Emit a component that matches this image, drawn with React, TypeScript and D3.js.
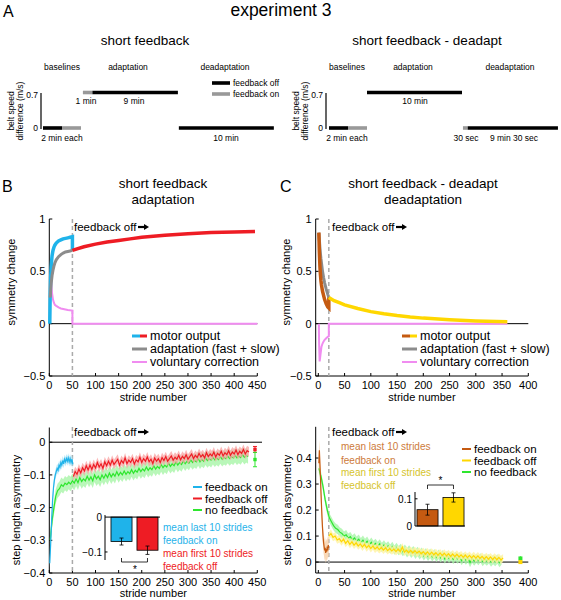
import React from "react";
import * as d3 from "d3";

const FONT = "Liberation Sans, Arial, Helvetica, sans-serif";

// ---------- Panel A: protocol schematics (minutes, belt speed difference) ----------
const aLeftStart = [0, 2, 4.2, 5.2, 14.3];
const aLeftEnd = [2, 4, 5.2, 14.2, 24.3];
const aLeftLevel = [0, 0, 0.7, 0.7, 0];
const aLeftFeedback = ["off", "on", "on", "off", "off"];
const aRightStart = [0, 2, 4, 14.1, 14.6];
const aRightEnd = [2, 4, 14, 14.6, 24.1];
const aRightLevel = [0, 0, 0.7, 0, 0];
const aRightFeedback = ["off", "on", "off", "on", "off"];

// ---------- Panel B top: model (symmetry change) ----------
const bBlueStride = [1, 1.5, 2, 3, 4, 5, 6, 8, 10, 12, 15, 20, 25, 30, 35, 40, 45, 50, 50];
const bBlueVal = [0, 0.15, 0.3, 0.45, 0.54, 0.6, 0.65, 0.7, 0.73, 0.75, 0.77, 0.79, 0.8, 0.81, 0.815, 0.82, 0.825, 0.83, 0.7];
const bGrayStride = [2, 3, 4, 5, 6, 8, 10, 12, 15, 20, 25, 30, 35, 40, 45, 50];
const bGrayVal = [0.25, 0.33, 0.38, 0.42, 0.46, 0.51, 0.55, 0.58, 0.61, 0.64, 0.66, 0.675, 0.685, 0.69, 0.695, 0.7];
const bPinkStride = [3.5, 4, 5, 6, 8, 10, 12, 15, 20, 25, 30, 40, 50, 50, 450];
const bPinkVal = [0.5, 0.42, 0.34, 0.29, 0.23, 0.2, 0.18, 0.17, 0.155, 0.145, 0.14, 0.13, 0.125, 0, 0];
const bRedStride = [50, 60, 75, 100, 125, 150, 175, 200, 250, 300, 350, 400, 445];
const bRedVal = [0.7, 0.715, 0.735, 0.76, 0.78, 0.795, 0.81, 0.825, 0.845, 0.86, 0.87, 0.875, 0.88];

// ---------- Panel C top: model ----------
const cOrangeStride = [1, 2, 3, 4, 5, 6, 8, 10, 12, 15, 18, 20, 20];
const cOrangeVal = [0.87, 0.68, 0.55, 0.47, 0.41, 0.37, 0.31, 0.27, 0.23, 0.19, 0.16, 0.15, 0.25];
const cGrayStride = [1, 2, 3, 4, 5, 6, 8, 10, 12, 15, 18, 20];
const cGrayVal = [0.87, 0.8, 0.73, 0.67, 0.62, 0.58, 0.5, 0.44, 0.39, 0.33, 0.28, 0.25];
const cPinkStride = [1, 1.5, 2.5, 3, 4, 5, 6, 8, 10, 12, 15, 18, 20, 20, 360];
const cPinkVal = [0, -0.2, -0.36, -0.34, -0.3, -0.26, -0.22, -0.19, -0.17, -0.155, -0.14, -0.125, -0.12, 0, 0];
const cYellowStride = [20, 30, 40, 50, 75, 100, 125, 150, 175, 200, 250, 300, 360];
const cYellowVal = [0.25, 0.22, 0.2, 0.18, 0.145, 0.115, 0.095, 0.078, 0.064, 0.053, 0.037, 0.026, 0.018];

// ---------- Panel B bottom: step length asymmetry ----------
const bBlueDataStart = 1, bBlueDataStep = 2;
const bBlueData = [-0.37, -0.31, -0.24, -0.18, -0.14, -0.115, -0.1, -0.09, -0.08, -0.086, -0.07, -0.077, -0.062, -0.07, -0.056, -0.066, -0.052, -0.06, -0.05, -0.058, -0.048, -0.06, -0.05, -0.062, -0.052, -0.068];
const bBlueSE = 0.014;
const bRedDataStart = 52, bRedDataStep = 4;
const bRedData = [-0.105, -0.09, -0.098, -0.082, -0.094, -0.078, -0.088, -0.072, -0.085, -0.07, -0.083, -0.068, -0.079, -0.062, -0.076, -0.066, -0.08, -0.06, -0.072, -0.058, -0.07, -0.055, -0.068, -0.06, -0.052, -0.07, -0.056, -0.064, -0.048, -0.066, -0.055, -0.062, -0.05, -0.067, -0.054, -0.06, -0.046, -0.062, -0.05, -0.058, -0.045, -0.06, -0.052, -0.065, -0.048, -0.058, -0.05, -0.062, -0.047, -0.056, -0.044, -0.058, -0.05, -0.042, -0.055, -0.046, -0.052, -0.04, -0.054, -0.043, -0.05, -0.038, -0.052, -0.044, -0.036, -0.05, -0.04, -0.047, -0.034, -0.045, -0.038, -0.048, -0.032, -0.044, -0.036, -0.042, -0.03, -0.045, -0.034, -0.04, -0.028, -0.042, -0.032, -0.038, -0.026, -0.04, -0.03, -0.036, -0.024, -0.038, -0.028, -0.034, -0.022, -0.036, -0.026, -0.03];
const bRedSE = 0.015;
const bGreenDataStart = 2, bGreenDataStep = 4;
const bGreenData = [-0.3, -0.24, -0.2, -0.165, -0.148, -0.142, -0.13, -0.135, -0.125, -0.13, -0.122, -0.128, -0.118, -0.125, -0.112, -0.124, -0.108, -0.12, -0.112, -0.118, -0.104, -0.116, -0.106, -0.118, -0.1, -0.112, -0.104, -0.115, -0.1, -0.11, -0.098, -0.108, -0.094, -0.106, -0.096, -0.104, -0.09, -0.102, -0.092, -0.1, -0.088, -0.098, -0.09, -0.096, -0.084, -0.095, -0.086, -0.092, -0.08, -0.09, -0.082, -0.088, -0.076, -0.086, -0.078, -0.084, -0.072, -0.082, -0.074, -0.08, -0.068, -0.078, -0.07, -0.076, -0.064, -0.074, -0.066, -0.072, -0.06, -0.07, -0.062, -0.068, -0.057, -0.066, -0.058, -0.064, -0.054, -0.062, -0.055, -0.06, -0.05, -0.06, -0.052, -0.058, -0.048, -0.056, -0.05, -0.055, -0.046, -0.054, -0.048, -0.053, -0.044, -0.052, -0.046, -0.05, -0.042, -0.05, -0.044, -0.048, -0.04, -0.048, -0.042, -0.047, -0.038, -0.046, -0.04, -0.044];
const bGreenSE = 0.022;
const bEndStride = 445;
const bEndMean = [-0.022, -0.053];
const bEndErr = [0.009, 0.022];
const bInsetCats = ["feedback on", "feedback off"];
const bInsetMean = [-0.07, -0.095];
const bInsetErr = [0.01, 0.012];

// ---------- Panel C bottom ----------
const cOrangeDataStart = 1, cOrangeDataStep = 1;
const cOrangeData = [0.38, 0.43, 0.38, 0.33, 0.27, 0.22, 0.17, 0.13, 0.1, 0.075, 0.06, 0.045, 0.055, 0.035, 0.05, 0.04, 0.06, 0.045, 0.065, 0.055];
const cOrangeSE = 0.04;
const cGreenDataStart = 1, cGreenDataStep = 4;
const cGreenData = [0.36, 0.33, 0.29, 0.24, 0.2, 0.17, 0.155, 0.14, 0.13, 0.125, 0.115, 0.11, 0.1, 0.105, 0.092, 0.098, 0.085, 0.093, 0.08, 0.088, 0.075, 0.084, 0.072, 0.08, 0.066, 0.076, 0.064, 0.072, 0.06, 0.07, 0.056, 0.066, 0.054, 0.062, 0.05, 0.06, 0.046, 0.056, 0.044, 0.052, 0.04, 0.05, 0.036, 0.047, 0.034, 0.044, 0.03, 0.041, 0.028, 0.038, 0.024, 0.036, 0.022, 0.034, 0.02, 0.032, 0.018, 0.03, 0.016, 0.028, 0.012, 0.026, 0.014, 0.024, 0.01, 0.022, 0.012, 0.02, 0.006, 0.018, 0.008, 0.016, -0.002, 0.014, 0.004, 0.014, 0.006, 0.016, 0.002, 0.012, 0.004, 0.013, 0.0, 0.01, 0.002, 0.012, -0.002, 0.008];
const cGreenSE = 0.018;
const cYellowDataStart = 20, cYellowDataStep = 4;
const cYellowData = [0.1, 0.11, 0.095, 0.1, 0.085, 0.09, 0.078, 0.088, 0.072, 0.082, 0.068, 0.078, 0.065, 0.074, 0.062, 0.07, 0.058, 0.068, 0.055, 0.064, 0.052, 0.062, 0.05, 0.058, 0.048, 0.056, 0.046, 0.055, 0.044, 0.052, 0.043, 0.05, 0.04, 0.05, 0.04, 0.058, 0.038, 0.046, 0.036, 0.045, 0.035, 0.044, 0.034, 0.042, 0.032, 0.04, 0.03, 0.039, 0.029, 0.038, 0.028, 0.036, 0.026, 0.035, 0.025, 0.034, 0.024, 0.032, 0.022, 0.031, 0.021, 0.03, 0.02, 0.028, 0.018, 0.027, 0.017, 0.026, 0.016, 0.025, 0.015, 0.024, 0.014, 0.022, 0.012, 0.021, 0.011, 0.02, 0.01, 0.019, 0.009, 0.018, 0.008, 0.016];
const cYellowSE = 0.015;
const cEndStride = 385;
const cEndMean = [0.014, 0.0];
const cEndErr = [0.008, 0.007];
const cInsetCats = ["feedback on", "feedback off"];
const cInsetMean = [0.06, 0.105];
const cInsetErr = [0.02, 0.017];

// ---------- Tick labels ----------
const bTopXTicks = [0, 50, 100, 150, 200, 250, 300, 350, 400, 450];
const cTopXTicks = [0, 50, 100, 150, 200, 250, 300, 350, 400];
const topYTicks = [-0.5, 0, 0.5, 1];
const bBotYTicks = [-0.4, -0.3, -0.2, -0.1, 0];
const cBotYTicks = [0, 0.1, 0.2, 0.3, 0.4];

const BLUE = "#1fb3ea";
const RED = "#ee1c24";
const GREEN = "#2ee62e";
const GRAY = "#8c8c8c";
const PINK = "#f08cf0";
const ORANGE = "#c55a11";
const YELLOW = "#ffd700";

type Pt = [number, number];
const zip = (xs: number[], ys: number[]): Pt[] => xs.map((x, i) => [x, ys[i]]);
const seq = (start: number, step: number, vals: number[]): Pt[] => vals.map((v, i) => [start + i * step, v]);
const fmt = (v: number) => (v < 0 ? "\u2212" + String(-v) : String(v));

function Axes({ x, y, xTicks, yTicks, xLabel, xLabelY }: any) {
  const [x0, x1] = x.range();
  const [y0, y1] = y.range();
  return (
    <g fontFamily={FONT} fontSize={11}>
      <line x1={x0} x2={x1} y1={y0} y2={y0} stroke="#000" strokeWidth={1} />
      <line x1={x0} x2={x0} y1={y0} y2={y1} stroke="#000" strokeWidth={1} />
      {xTicks.map((t: number) => (
        <g key={"x" + t}>
          <line x1={x(t)} x2={x(t)} y1={y0} y2={y0 - 3} stroke="#000" />
          <text x={x(t)} y={y0 + 12.5} textAnchor="middle">{fmt(t)}</text>
        </g>
      ))}
      {yTicks.map((t: number) => (
        <g key={"y" + t}>
          <line x1={x0} x2={x0 + 3} y1={y(t)} y2={y(t)} stroke="#000" />
          <text x={x0 - 4} y={y(t) + 4} textAnchor="end">{fmt(t)}</text>
        </g>
      ))}
      {xLabel ? <text x={(x0 + x1) / 2} y={xLabelY} textAnchor="middle">{xLabel}</text> : null}
    </g>
  );
}

function FeedbackOff({ x, y }: { x: number; y: number }) {
  const ax = x + 64;
  return (
    <g>
      <text x={x} y={y} fontFamily={FONT} fontSize={11.5}>feedback off</text>
      <line x1={ax} x2={ax + 7} y1={y - 4} y2={y - 4} stroke="#000" strokeWidth={2.2} />
      <path d={`M${ax + 6},${y - 7} L${ax + 11},${y - 4} L${ax + 6},${y - 1} Z`} fill="#000" />
    </g>
  );
}

function Timeline({ x0, starts, ends, levels, fb }: any) {
  const tx = d3.scaleLinear().domain([0, 10]).range([x0, x0 + 95]);
  const ty = d3.scaleLinear().domain([0, 0.7]).range([128, 92.5]);
  return (
    <g>
      {starts.map((s: number, i: number) => (
        <line key={i} x1={tx(s)} x2={tx(ends[i])} y1={ty(levels[i])} y2={ty(levels[i])}
          stroke={fb[i] === "on" ? "#999" : "#000"} strokeWidth={3.6} />
      ))}
    </g>
  );
}

function Bars({ xs, ys, cats, means, errs, colors }: any) {
  const bw = xs.bandwidth();
  return (
    <g>
      {cats.map((c: string, i: number) => {
        const cxm = xs(c) + bw / 2;
        const top = Math.min(ys(0), ys(means[i]));
        const h = Math.abs(ys(means[i]) - ys(0));
        const lo = ys(means[i] - errs[i]);
        const hi = ys(means[i] + errs[i]);
        return (
          <g key={c}>
            <rect x={xs(c)} y={top} width={bw} height={h} fill={colors[i]} stroke="#000" strokeWidth={0.8} />
            <line x1={cxm} x2={cxm} y1={lo} y2={hi} stroke="#000" strokeWidth={0.8} />
            <line x1={cxm - 2} x2={cxm + 2} y1={lo} y2={lo} stroke="#000" strokeWidth={0.8} />
            <line x1={cxm - 2} x2={cxm + 2} y1={hi} y2={hi} stroke="#000" strokeWidth={0.8} />
          </g>
        );
      })}
    </g>
  );
}

export default function App() {
  const bx = d3.scaleLinear().domain([0, 450]).range([49.3, 257.3]);
  const cx = d3.scaleLinear().domain([-5, 400]).range([315.7, 528.3]);
  const byT = d3.scaleLinear().domain([-0.5, 1]).range([376, 219]);
  const cyT = d3.scaleLinear().domain([-0.5, 1]).range([376, 219]);
  const byB = d3.scaleLinear().domain([-0.4, 0.045]).range([573, 427.5]);
  const cyB = d3.scaleLinear().domain([-0.042, 0.52]).range([573, 426.8]);

  const lineB = (ys: any) => d3.line<Pt>().x((d) => bx(d[0])).y((d) => ys(d[1]));
  const lineC = (ys: any) => d3.line<Pt>().x((d) => cx(d[0])).y((d) => ys(d[1]));
  const areaF = (xs: any, ys: any, se: number) =>
    d3.area<Pt>().x((d) => xs(d[0])).y0((d) => ys(d[1] - se)).y1((d) => ys(d[1] + se));

  const ltB = lineB(byT);
  const ltC = lineC(cyT);
  const lbB = lineB(byB);
  const lbC = lineC(cyB);

  const bBlue = seq(bBlueDataStart, bBlueDataStep, bBlueData);
  const bRed = seq(bRedDataStart, bRedDataStep, bRedData);
  const bGreen = seq(bGreenDataStart, bGreenDataStep, bGreenData);
  const cOr = seq(cOrangeDataStart, cOrangeDataStep, cOrangeData);
  const cGr = seq(cGreenDataStart, cGreenDataStep, cGreenData);
  const cYe = seq(cYellowDataStart, cYellowDataStep, cYellowData);

  // insets
  const bInX = d3.scaleBand().domain(bInsetCats).range([108, 161]).paddingInner(0.19).paddingOuter(0.115);
  const bInY = d3.scaleLinear().domain([-0.123, 0.006]).range([560, 515]);
  const cInX = d3.scaleBand().domain(cInsetCats).range([414, 467]).paddingInner(0.19).paddingOuter(0.115);
  const cInY = d3.scaleLinear().domain([0, 0.125]).range([526, 492]);
  const bMid = (c: string) => (bInX(c) as number) + bInX.bandwidth() / 2;
  const cMid = (c: string) => (cInX(c) as number) + cInX.bandwidth() / 2;

  const T = (p: any) => <text fontFamily={FONT} {...p} />;

  return (
    <svg width={561} height={600} style={{ position: "absolute", left: 0, top: 0, background: "#fff" }}>
      <rect width={561} height={600} fill="#fff" />
      {/* ================= Panel A ================= */}
      <T x={3} y={17} fontSize={16}>A</T>
      <T x={281} y={16} fontSize={17.5} textAnchor="middle">experiment 3</T>
      <T x={145} y={45} fontSize={13.5} textAnchor="middle">short feedback</T>
      <T x={427} y={45} fontSize={13.5} textAnchor="middle">short feedback - deadapt</T>
      {[
        [62, "baselines"], [128, "adaptation"], [225, "deadaptation"],
        [347, "baselines"], [413, "adaptation"], [510, "deadaptation"],
      ].map(([x, s]: any, i) => (
        <T key={i} x={x} y={70} fontSize={8.5} textAnchor="middle">{s}</T>
      ))}
      {[41, 326].map((ax, i) => (
        <g key={i}>
          <line x1={ax} x2={ax} y1={93} y2={129} stroke="#000" strokeWidth={1.2} />
          <T x={ax - 3} y={98} fontSize={8.5} textAnchor="end">0.7</T>
          <T x={ax - 3} y={131} fontSize={8.5} textAnchor="end">0</T>
          <g transform={`translate(${ax - 27},111) rotate(-90)`}>
            <T x={0} y={0} fontSize={8.5} textAnchor="middle">belt speed</T>
            <T x={0} y={9} fontSize={8.5} textAnchor="middle">difference (m/s)</T>
          </g>
        </g>
      ))}
      <Timeline x0={43} starts={aLeftStart} ends={aLeftEnd} levels={aLeftLevel} fb={aLeftFeedback} />
      <Timeline x0={329} starts={aRightStart} ends={aRightEnd} levels={aRightLevel} fb={aRightFeedback} />
      <T x={86} y={104} fontSize={8.5} textAnchor="middle">1 min</T>
      <T x={134} y={104} fontSize={8.5} textAnchor="middle">9 min</T>
      <T x={62} y={141} fontSize={8.5} textAnchor="middle">2 min each</T>
      <T x={226} y={141} fontSize={8.5} textAnchor="middle">10 min</T>
      <T x={415} y={104} fontSize={8.5} textAnchor="middle">10 min</T>
      <T x={347} y={141} fontSize={8.5} textAnchor="middle">2 min each</T>
      <T x={466} y={141} fontSize={8.5} textAnchor="middle">30 sec</T>
      <T x={514} y={141} fontSize={8.5} textAnchor="middle">9 min 30 sec</T>
      <line x1={212} x2={230} y1={83} y2={83} stroke="#000" strokeWidth={3.6} />
      <line x1={212} x2={230} y1={94} y2={94} stroke="#999" strokeWidth={3.6} />
      <T x={233} y={86} fontSize={8.5}>feedback off</T>
      <T x={233} y={97} fontSize={8.5}>feedback on</T>

      {/* ================= Panel B top ================= */}
      <T x={2} y={192} fontSize={16}>B</T>
      <T x={163} y={188} fontSize={13.5} textAnchor="middle">short feedback</T>
      <T x={163} y={204} fontSize={13.5} textAnchor="middle">adaptation</T>
      <Axes x={bx} y={byT} xTicks={bTopXTicks} yTicks={topYTicks} xLabel="stride number" xLabelY={401} />
      <g transform="translate(15,282) rotate(-90)">
        <T x={0} y={0} fontSize={11} textAnchor="middle">symmetry change</T>
      </g>
      <line x1={bx(0)} x2={bx(450)} y1={byT(0)} y2={byT(0)} stroke="#000" strokeWidth={1} />
      <line x1={bx(50)} x2={bx(50)} y1={219} y2={376} stroke="#aaa" strokeWidth={1.5} strokeDasharray="4,3" />
      <path d={ltB(zip(bPinkStride, bPinkVal)) || ""} fill="none" stroke={PINK} strokeWidth={2} />
      <path d={ltB(zip(bBlueStride, bBlueVal)) || ""} fill="none" stroke={BLUE} strokeWidth={3.5} />
      <path d={ltB(zip(bGrayStride, bGrayVal)) || ""} fill="none" stroke={GRAY} strokeWidth={3} />
      <path d={ltB(zip(bRedStride, bRedVal)) || ""} fill="none" stroke={RED} strokeWidth={3.5} />
      <FeedbackOff x={74} y={231} />
      <line x1={132} x2={140} y1={336} y2={336} stroke={BLUE} strokeWidth={3} />
      <line x1={140} x2={147} y1={336} y2={336} stroke={RED} strokeWidth={3} />
      <line x1={132} x2={147} y1={349} y2={349} stroke={GRAY} strokeWidth={3} />
      <line x1={132} x2={147} y1={362} y2={362} stroke={PINK} strokeWidth={2} />
      <T x={150} y={340} fontSize={12.5}>motor output</T>
      <T x={150} y={353} fontSize={12.5}>adaptation (fast + slow)</T>
      <T x={150} y={366} fontSize={12.5}>voluntary correction</T>

      {/* ================= Panel C top ================= */}
      <T x={280} y={192} fontSize={16}>C</T>
      <T x={423} y={188} fontSize={13.5} textAnchor="middle">short feedback - deadapt</T>
      <T x={423} y={204} fontSize={13.5} textAnchor="middle">deadaptation</T>
      <Axes x={cx} y={cyT} xTicks={cTopXTicks} yTicks={topYTicks} xLabel="stride number" xLabelY={401} />
      <g transform="translate(290,282) rotate(-90)">
        <T x={0} y={0} fontSize={11} textAnchor="middle">symmetry change</T>
      </g>
      <line x1={cx(-5)} x2={cx(400)} y1={cyT(0)} y2={cyT(0)} stroke="#000" strokeWidth={1} />
      <line x1={cx(20)} x2={cx(20)} y1={219} y2={376} stroke="#aaa" strokeWidth={1.5} strokeDasharray="4,3" />
      <path d={ltC(zip(cPinkStride, cPinkVal)) || ""} fill="none" stroke={PINK} strokeWidth={2} />
      <path d={ltC(zip(cGrayStride, cGrayVal)) || ""} fill="none" stroke={GRAY} strokeWidth={3} />
      <path d={ltC(zip(cOrangeStride, cOrangeVal)) || ""} fill="none" stroke={ORANGE} strokeWidth={3.5} />
      <path d={ltC(zip(cYellowStride, cYellowVal)) || ""} fill="none" stroke={YELLOW} strokeWidth={3.5} />
      <FeedbackOff x={332} y={231} />
      <line x1={402} x2={410} y1={336} y2={336} stroke={ORANGE} strokeWidth={3} />
      <line x1={410} x2={417} y1={336} y2={336} stroke={YELLOW} strokeWidth={3} />
      <line x1={402} x2={417} y1={349} y2={349} stroke={GRAY} strokeWidth={3} />
      <line x1={402} x2={417} y1={362} y2={362} stroke={PINK} strokeWidth={2} />
      <T x={420} y={340} fontSize={12.5}>motor output</T>
      <T x={420} y={353} fontSize={12.5}>adaptation (fast + slow)</T>
      <T x={420} y={366} fontSize={12.5}>voluntary correction</T>

      {/* ================= Panel B bottom ================= */}
      <Axes x={bx} y={byB} xTicks={bTopXTicks} yTicks={bBotYTicks} xLabel="stride number" xLabelY={597} />
      <g transform="translate(20,510) rotate(-90)">
        <T x={0} y={0} fontSize={11} textAnchor="middle">step length asymmetry</T>
      </g>
      <line x1={bx(0)} x2={262} y1={byB(0)} y2={byB(0)} stroke="#000" strokeWidth={1} />
      <line x1={bx(50)} x2={bx(50)} y1={427} y2={573} stroke="#aaa" strokeWidth={1.5} strokeDasharray="4,3" />
      <path d={areaF(bx, byB, bGreenSE)(bGreen) || ""} fill="#a8f5a8" opacity={0.8} />
      <path d={lbB(bGreen) || ""} fill="none" stroke={GREEN} strokeWidth={1.2} />
      <path d={areaF(bx, byB, bRedSE)(bRed) || ""} fill="#f9a3a3" opacity={0.75} />
      <path d={lbB(bRed) || ""} fill="none" stroke={RED} strokeWidth={1.2} />
      <path d={areaF(bx, byB, bBlueSE)(bBlue) || ""} fill="#a9e3f8" opacity={0.8} />
      <path d={lbB(bBlue) || ""} fill="none" stroke={BLUE} strokeWidth={1.2} />
      {bEndMean.map((m, i) => {
        const col = i === 0 ? RED : GREEN;
        const ex = bx(bEndStride);
        return (
          <g key={i}>
            <line x1={ex} x2={ex} y1={byB(m - bEndErr[i])} y2={byB(m + bEndErr[i])} stroke={col} strokeWidth={1} />
            <line x1={ex - 2} x2={ex + 2} y1={byB(m - bEndErr[i])} y2={byB(m - bEndErr[i])} stroke={col} />
            <line x1={ex - 2} x2={ex + 2} y1={byB(m + bEndErr[i])} y2={byB(m + bEndErr[i])} stroke={col} />
            <rect x={ex - 1.7} y={byB(m) - 1.7} width={3.4} height={3.4} fill={col} />
          </g>
        );
      })}
      <FeedbackOff x={74} y={436} />
      <line x1={193} x2={202} y1={487} y2={487} stroke={BLUE} strokeWidth={2} />
      <line x1={193} x2={202} y1={498.5} y2={498.5} stroke={RED} strokeWidth={2} />
      <line x1={193} x2={202} y1={510} y2={510} stroke={GREEN} strokeWidth={2} />
      <T x={205} y={491} fontSize={11.5}>feedback on</T>
      <T x={205} y={502.5} fontSize={11.5}>feedback off</T>
      <T x={205} y={514} fontSize={11.5}>no feedback</T>
      {/* inset B */}
      <line x1={105} x2={105} y1={515} y2={560} stroke="#000" />
      <T x={102} y={520.5} fontSize={10} textAnchor="end">0</T>
      <T x={102} y={555.5} fontSize={10} textAnchor="end">{"\u22120.1"}</T>
      <line x1={105} x2={107.5} y1={bInY(-0.1)} y2={bInY(-0.1)} stroke="#000" />
      <Bars xs={bInX} ys={bInY} cats={bInsetCats} means={bInsetMean} errs={bInsetErr} colors={[BLUE, RED]} />
      <line x1={105} x2={160} y1={bInY(0)} y2={bInY(0)} stroke="#000" />
      <path d={`M${bMid(bInsetCats[0])},558 V562 H${bMid(bInsetCats[1])} V558`} fill="none" stroke="#000" strokeWidth={0.8} />
      <T x={135} y={573} fontSize={10} textAnchor="middle">*</T>
      <T x={163} y={531} fontSize={10} fill={BLUE}>mean last 10 strides</T>
      <T x={163} y={543.5} fontSize={10} fill={BLUE}>feedback on</T>
      <T x={163} y={557} fontSize={10} fill={RED}>mean first 10 strides</T>
      <T x={163} y={570} fontSize={10} fill={RED}>feedback off</T>

      {/* ================= Panel C bottom ================= */}
      <Axes x={cx} y={cyB} xTicks={cTopXTicks} yTicks={cBotYTicks} xLabel="stride number" xLabelY={597} />
      <g transform="translate(291,510) rotate(-90)">
        <T x={0} y={0} fontSize={11} textAnchor="middle">step length asymmetry</T>
      </g>
      <line x1={cx(-5)} x2={cx(400)} y1={cyB(0)} y2={cyB(0)} stroke="#000" strokeWidth={1} />
      <line x1={cx(20)} x2={cx(20)} y1={427} y2={573} stroke="#aaa" strokeWidth={1.5} strokeDasharray="4,3" />
      <path d={areaF(cx, cyB, cGreenSE)(cGr) || ""} fill="#a8f5a8" opacity={0.8} />
      <path d={lbC(cGr) || ""} fill="none" stroke={GREEN} strokeWidth={1.2} />
      <path d={areaF(cx, cyB, cYellowSE)(cYe) || ""} fill="#fff2a0" opacity={0.8} />
      <path d={lbC(cYe) || ""} fill="none" stroke={YELLOW} strokeWidth={1.2} />
      <path d={areaF(cx, cyB, cOrangeSE)(cOr) || ""} fill="#f7cfa6" opacity={0.8} />
      <path d={lbC(cOr) || ""} fill="none" stroke={ORANGE} strokeWidth={1.2} />
      {cEndMean.map((m, i) => {
        const col = i === 0 ? GREEN : YELLOW;
        const ex = cx(cEndStride);
        return (
          <g key={i}>
            <line x1={ex} x2={ex} y1={cyB(m - cEndErr[i])} y2={cyB(m + cEndErr[i])} stroke={col} strokeWidth={1} />
            <rect x={ex - 2} y={cyB(m) - 2} width={4} height={4} fill={col} />
          </g>
        );
      })}
      <FeedbackOff x={332} y={436} />
      <T x={341} y={450} fontSize={10} fill="#cd7a3a">mean last 10 strides</T>
      <T x={341} y={463.5} fontSize={10} fill="#cd7a3a">feedback on</T>
      <T x={341} y={476} fontSize={10} fill="#d6c42c">mean first 10 strides</T>
      <T x={341} y={488.5} fontSize={10} fill="#d6c42c">feedback off</T>
      <line x1={462} x2={471} y1={449} y2={449} stroke={ORANGE} strokeWidth={2} />
      <line x1={462} x2={471} y1={460.5} y2={460.5} stroke={YELLOW} strokeWidth={2} />
      <line x1={462} x2={471} y1={472} y2={472} stroke={GREEN} strokeWidth={2} />
      <T x={474} y={453} fontSize={11.5}>feedback on</T>
      <T x={474} y={464.5} fontSize={11.5}>feedback off</T>
      <T x={474} y={476} fontSize={11.5}>no feedback</T>
      {/* inset C */}
      <line x1={415} x2={415} y1={492} y2={526} stroke="#000" />
      <line x1={415} x2={417.5} y1={cInY(0.1)} y2={cInY(0.1)} stroke="#000" />
      <T x={412} y={502.5} fontSize={10} textAnchor="end">0.1</T>
      <T x={412} y={529.5} fontSize={10} textAnchor="end">0</T>
      <Bars xs={cInX} ys={cInY} cats={cInsetCats} means={cInsetMean} errs={cInsetErr} colors={[ORANGE, YELLOW]} />
      <line x1={415} x2={465} y1={cInY(0)} y2={cInY(0)} stroke="#000" />
      <path d={`M${cMid(cInsetCats[0])},489 V485 H${cMid(cInsetCats[1])} V489`} fill="none" stroke="#000" strokeWidth={0.8} />
      <T x={440.5} y={484} fontSize={10} textAnchor="middle">*</T>
    </svg>
  );
}
